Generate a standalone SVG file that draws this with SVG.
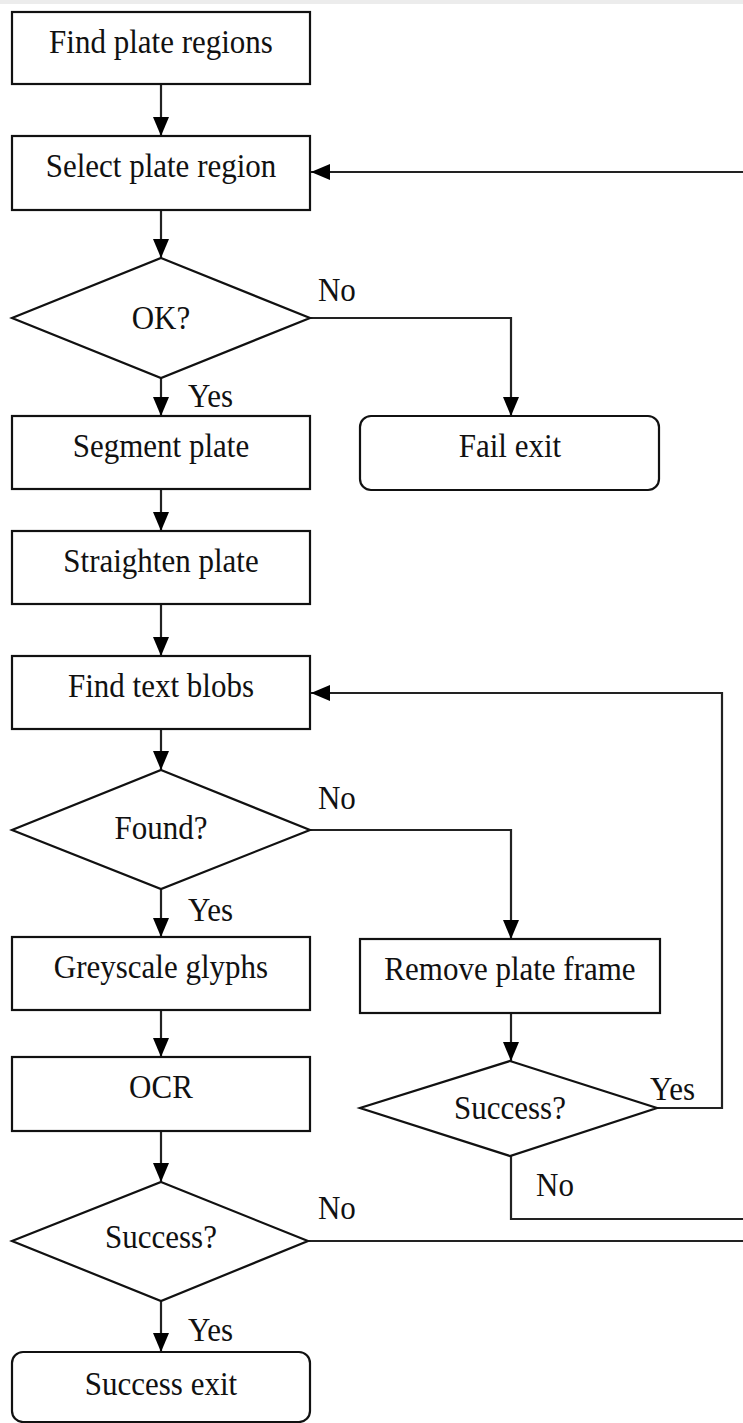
<svg xmlns="http://www.w3.org/2000/svg" width="743" height="1423" viewBox="0 0 743 1423">
  <style>
    .box { fill: #fff; stroke: #111; stroke-width: 2.2; }
    .edge { fill: none; stroke: #222; stroke-width: 2.2; }
    .t, .lbl { font-family: "Liberation Serif", "Times New Roman", serif; font-size: 31px; fill: #111;
               transform-box: fill-box; transform-origin: center; transform: scale(1, 1.1); }
    .t { text-anchor: middle; }
  </style>
  <defs>
    <marker id="arrow" markerWidth="19" markerHeight="16" refX="19" refY="8" orient="auto" markerUnits="userSpaceOnUse">
      <path d="M0,0 L19,8 L0,16 Z" fill="#000"/>
    </marker>
  </defs>
  <rect x="0" y="0" width="743" height="1423" fill="#fff"/>
  <rect x="0" y="0" width="743" height="4" fill="#ececec"/>

  <g id="connectors">
    <path class="edge" d="M161,84 V136" marker-end="url(#arrow)"/>
    <path class="edge" d="M743,172 H311" marker-end="url(#arrow)"/>
    <path class="edge" d="M161,210 V258" marker-end="url(#arrow)"/>
    <path class="edge" d="M310,318 H511 V416" marker-end="url(#arrow)"/>
    <path class="edge" d="M161,378 V416" marker-end="url(#arrow)"/>
    <path class="edge" d="M161,489 V531" marker-end="url(#arrow)"/>
    <path class="edge" d="M161,604 V656" marker-end="url(#arrow)"/>
    <path class="edge" d="M161,729 V770" marker-end="url(#arrow)"/>
    <path class="edge" d="M310,830 H511 V939" marker-end="url(#arrow)"/>
    <path class="edge" d="M161,889 V937" marker-end="url(#arrow)"/>
    <path class="edge" d="M161,1010 V1057" marker-end="url(#arrow)"/>
    <path class="edge" d="M511,1013 V1061" marker-end="url(#arrow)"/>
    <path class="edge" d="M657,1108 H722 V693 H311" marker-end="url(#arrow)"/>
    <path class="edge" d="M511,1156 V1219 H743"/>
    <path class="edge" d="M161,1131 V1182" marker-end="url(#arrow)"/>
    <path class="edge" d="M308,1241 H743"/>
    <path class="edge" d="M161,1301 V1352" marker-end="url(#arrow)"/>
    <text class="lbl" x="318" y="300">No</text>
    <text class="lbl" x="188" y="406">Yes</text>
    <text class="lbl" x="318" y="808">No</text>
    <text class="lbl" x="188" y="920">Yes</text>
    <text class="lbl" x="650" y="1099">Yes</text>
    <text class="lbl" x="536" y="1195">No</text>
    <text class="lbl" x="318" y="1218">No</text>
    <text class="lbl" x="188" y="1340">Yes</text>
  </g>

  <g id="find-plate-regions">
    <rect class="box" x="12" y="12" width="298" height="72"/>
    <text class="t" x="161" y="52">Find plate regions</text>
  </g>
  <g id="select-plate-region">
    <rect class="box" x="12" y="136" width="298" height="74"/>
    <text class="t" x="161" y="176">Select plate region</text>
  </g>
  <g id="ok">
    <polygon class="box" points="161,258 310,318 161,378 12,318"/>
    <text class="t" x="161" y="328">OK?</text>
  </g>
  <g id="segment-plate">
    <rect class="box" x="12" y="416" width="298" height="73"/>
    <text class="t" x="161" y="456">Segment plate</text>
  </g>
  <g id="fail-exit">
    <rect class="box" x="360" y="416" width="299" height="74" rx="11"/>
    <text class="t" x="510" y="456">Fail exit</text>
  </g>
  <g id="straighten-plate">
    <rect class="box" x="12" y="531" width="298" height="73"/>
    <text class="t" x="161" y="571">Straighten plate</text>
  </g>
  <g id="find-text-blobs">
    <rect class="box" x="12" y="656" width="298" height="73"/>
    <text class="t" x="161" y="696">Find text blobs</text>
  </g>
  <g id="found">
    <polygon class="box" points="161,770 310,830 161,889 12,830"/>
    <text class="t" x="161" y="838">Found?</text>
  </g>
  <g id="greyscale-glyphs">
    <rect class="box" x="12" y="937" width="298" height="73"/>
    <text class="t" x="161" y="977">Greyscale glyphs</text>
  </g>
  <g id="remove-plate-frame">
    <rect class="box" x="360" y="939" width="300" height="74"/>
    <text class="t" x="510" y="979">Remove plate frame</text>
  </g>
  <g id="ocr">
    <rect class="box" x="12" y="1057" width="298" height="74"/>
    <text class="t" x="161" y="1097">OCR</text>
  </g>
  <g id="frame-success">
    <polygon class="box" points="510,1061 657,1108 510,1156 360,1108"/>
    <text class="t" x="510" y="1118">Success?</text>
  </g>
  <g id="ocr-success">
    <polygon class="box" points="161,1182 308,1241 161,1301 12,1241"/>
    <text class="t" x="161" y="1247">Success?</text>
  </g>
  <g id="success-exit">
    <rect class="box" x="12" y="1352" width="298" height="70" rx="11"/>
    <text class="t" x="161" y="1394">Success exit</text>
  </g>
</svg>
